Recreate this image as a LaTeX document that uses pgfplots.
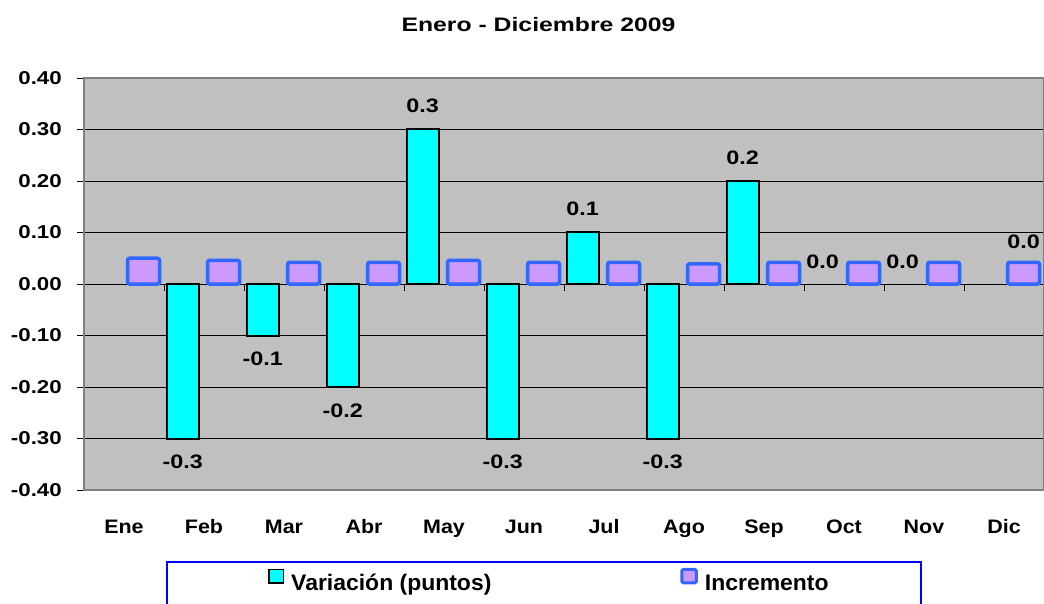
\documentclass[border=0pt]{standalone}
\usepackage{fontspec}
\setmainfont{Liberation Sans}
\newfontfamily\titfont{Liberation Sans}[FakeStretch=1.27]
\newfontfamily\numfont{Liberation Sans}[FakeStretch=1.2]
\newfontfamily\catfont{Liberation Sans}[FakeStretch=1.1]
\newfontfamily\legfont{Liberation Sans}[FakeStretch=1.02]
\usepackage{pgfplots}
\usepackage{pgfplotstable}
\pgfplotsset{compat=1.18}

\definecolor{plotgray}{RGB}{192,192,192}
\definecolor{barcyan}{RGB}{0,255,255}
\definecolor{lila}{RGB}{204,153,255}
\definecolor{lilaedge}{RGB}{51,102,255}
\definecolor{framegray}{RGB}{128,128,128}
\definecolor{legblue}{RGB}{0,0,255}

\pgfplotsset{
  sqlegend/.style={legend image code/.code={\draw[##1, line width=1.5pt] (0pt,0.5pt) rectangle (14.5pt,14pt);}},
  sqlegendlila/.style={legend image code/.code={\draw[##1, line width=3pt, rounded corners=1.5pt] (0pt,0.5pt) rectangle (14.5pt,14pt);}},
  vlabels/.style={
    nodes near coords={\pgfmathprintnumber[fixed, fixed zerofill, precision=1, assume math mode=true]{\pgfplotspointmeta}},
    point meta=y,
    every node near coord/.append style={font=\numfont\bfseries\fontsize{19.5}{22}\selectfont, inner xsep=0pt, inner ysep=15.5pt},
  },
}

% Variacion (puntos), Feb..Sep
\pgfplotstableread{
x var
1 -0.3
2 -0.1
3 -0.2
4 0.3
5 -0.3
6 0.1
7 -0.3
8 0.2
}\variacion

% Incremento
\pgfplotstableread{
x inc
0 0.050
1 0.046
2 0.042
3 0.042
4 0.046
5 0.042
6 0.042
7 0.039
8 0.042
9 0.042
10 0.042
11 0.042
}\incremento

\begin{document}
\begin{tikzpicture}[x=1pt,y=1pt]
\path[use as bounding box] (0,0) rectangle (1044,603);

\node[anchor=base, inner sep=0pt, font=\titfont\bfseries\fontsize{19.5}{22}\selectfont]
  at (538.5,571.3) {Enero - Diciembre 2009};

\begin{axis}[
    at={(84pt,113pt)}, anchor=south west,
    scale only axis, width=960pt, height=412pt,
    xmin=-0.5, xmax=11.5, ymin=-0.4, ymax=0.4,
    axis background/.style={fill=plotgray},
    axis line style={draw=framegray, line width=2pt},
    xtick={0,1,2,3,4,5,6,7,8,9,10,11},
    xticklabels={Ene,Feb,Mar,Abr,May,Jun,Jul,Ago,Sep,Oct,Nov,Dic},
    ytick={-0.4,-0.3,-0.2,-0.1,0,0.1,0.2,0.3,0.4},
    yticklabels={-0.40,-0.30,-0.20,-0.10,0.00,0.10,0.20,0.30,0.40},
    ymajorgrids,
    major grid style={black, line width=0.8pt},
    tick align=outside, ytick pos=left, xtick pos=bottom,
    major tick length=7pt,
    y tick style={black, line width=0.8pt},
    x tick style={draw=none},
    yticklabel style={font=\numfont\bfseries\fontsize{18.6}{20}\selectfont, inner sep=0pt, xshift=-15pt},
    xticklabel style={font=\catfont\bfseries\fontsize{19.5}{22}\selectfont, inner sep=0pt, text height=14.5pt, yshift=-22pt},
    ybar, bar width=0.4,
    legend columns=2,
    legend style={at={(axis description cs:0.1917,-0.2189)}, anchor=west,
        draw=none, fill=none, inner sep=0pt,
        font=\legfont\bfseries\fontsize{22.5}{24}\selectfont,
        nodes={inner sep=0pt},
        /tikz/every odd column/.append style={column sep=7pt},
        /tikz/every even column/.append style={column sep=189pt}},
]
\addplot[fill=barcyan, draw=black, line width=2pt, bar shift=-0.266,
    vlabels, sqlegend]
    table[x=x, y=var] {\variacion};
\addlegendentry{Variación (puntos)}

\addplot[fill=lila, draw=lilaedge, line width=3.5pt, rounded corners=2pt, bar shift=0.244,
    sqlegendlila]
    table[x=x, y=inc] {\incremento};
\addlegendentry{Incremento}

% zero values of Variacion: only their labels show
\addplot[draw=none, fill=none, bar shift=-0.266, forget plot, vlabels]
    coordinates {(9,0) (10,0)};
\addplot[draw=none, fill=none, bar shift=0.244, forget plot, vlabels,
    every node near coord/.append style={yshift=20pt}]
    coordinates {(11,0)};

% category separators on the zero line
\draw[black, line width=0.8pt] (axis cs:0.5,0) -- ([yshift=-7pt]axis cs:0.5,0);
\draw[black, line width=0.8pt] (axis cs:1.5,0) -- ([yshift=-7pt]axis cs:1.5,0);
\draw[black, line width=0.8pt] (axis cs:2.5,0) -- ([yshift=-7pt]axis cs:2.5,0);
\draw[black, line width=0.8pt] (axis cs:3.5,0) -- ([yshift=-7pt]axis cs:3.5,0);
\draw[black, line width=0.8pt] (axis cs:4.5,0) -- ([yshift=-7pt]axis cs:4.5,0);
\draw[black, line width=0.8pt] (axis cs:5.5,0) -- ([yshift=-7pt]axis cs:5.5,0);
\draw[black, line width=0.8pt] (axis cs:6.5,0) -- ([yshift=-7pt]axis cs:6.5,0);
\draw[black, line width=0.8pt] (axis cs:7.5,0) -- ([yshift=-7pt]axis cs:7.5,0);
\draw[black, line width=0.8pt] (axis cs:8.5,0) -- ([yshift=-7pt]axis cs:8.5,0);
\draw[black, line width=0.8pt] (axis cs:9.5,0) -- ([yshift=-7pt]axis cs:9.5,0);
\draw[black, line width=0.8pt] (axis cs:10.5,0) -- ([yshift=-7pt]axis cs:10.5,0);
\end{axis}

\draw[legblue, line width=2.5pt] (167,41) rectangle (921,-20);
\end{tikzpicture}
\end{document}
